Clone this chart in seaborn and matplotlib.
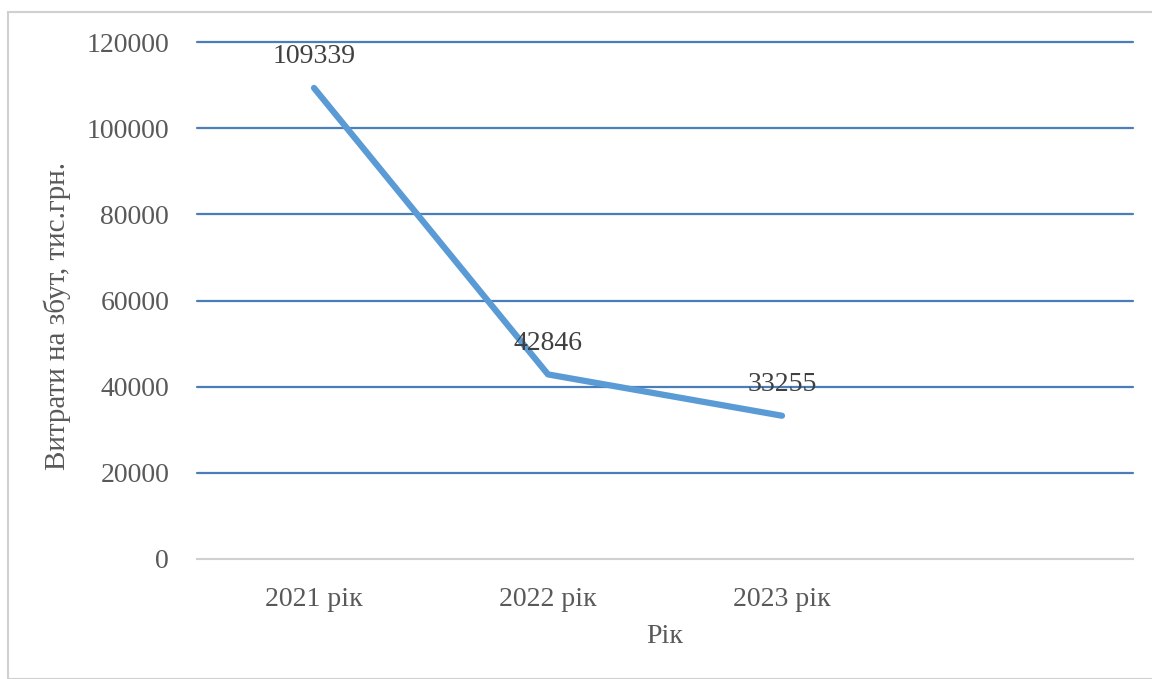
import matplotlib
matplotlib.use("Agg")
import matplotlib.pyplot as plt
import matplotlib.patches as patches
import seaborn as sns
import pandas as pd

# Дані
years = ["2021 рік", "2022 рік", "2023 рік"]
costs = [109339, 42846, 33255]
y_ticks = [0, 20000, 40000, 60000, 80000, 100000, 120000]

df = pd.DataFrame({"Рік": years, "Витрати": costs})

sns.set_theme(style="white")
plt.rcParams['font.family'] = ['Liberation Serif', 'DejaVu Serif']

fig = plt.figure(figsize=(11.52, 6.79), dpi=100)
ax = fig.add_axes([197 / 1152, 1 - 559 / 679, (1133 - 197) / 1152, (559 - 42) / 679])

# рамка навколо рисунка
fig.patches.append(patches.Rectangle((8 / 1152, 0), 1.2, 1 - 12 / 679, transform=fig.transFigure,
                                     fill=False, edgecolor="#d0d0d0", linewidth=1.5))

# сітка
for yv in y_ticks[1:]:
    ax.axhline(yv, color="#4a7ebb", linewidth=1.6, zorder=1, clip_on=False)

sns.lineplot(data=df, x="Рік", y="Витрати", ax=ax, color="#5b9bd5", linewidth=4.5,
             sort=False, zorder=3)

# підписи значень
for i, v in enumerate(costs):
    ax.text(i, v + 4300, str(v), ha="center", va="bottom", fontsize=20, color="#404040", zorder=4)

ax.set_xlim(-0.5, 3.5)
ax.set_ylim(0, 120000)
ax.set_yticks(y_ticks)
ax.set_yticklabels([str(t) for t in y_ticks], fontsize=20, color="#595959")
ax.set_xticks(range(len(years)))
ax.set_xticklabels(years, fontsize=20, color="#595959")
ax.set_xticks([-0.5, 0.5, 1.5, 2.5, 3.5], minor=True)
ax.tick_params(axis="x", which="major", length=0, pad=20)
ax.tick_params(axis="x", which="minor", length=6, color="#d0d0d0", width=1.5, direction="out")
ax.tick_params(axis="y", length=0, pad=20)

for s in ["top", "right", "left"]:
    ax.spines[s].set_visible(False)
ax.spines["bottom"].set_color("#d0d0d0")
ax.spines["bottom"].set_linewidth(1.5)
ax.spines["bottom"].set_zorder(2)

ax.set_xlabel("Рік", fontsize=20, color="#595959")
ax.set_ylabel("Витрати на збут, тис.грн.", fontsize=21, color="#595959")
ax.xaxis.set_label_coords(0.5, -0.125)
ax.yaxis.set_label_coords(-0.135, 0.47)

fig.savefig("out.png", dpi=100)
